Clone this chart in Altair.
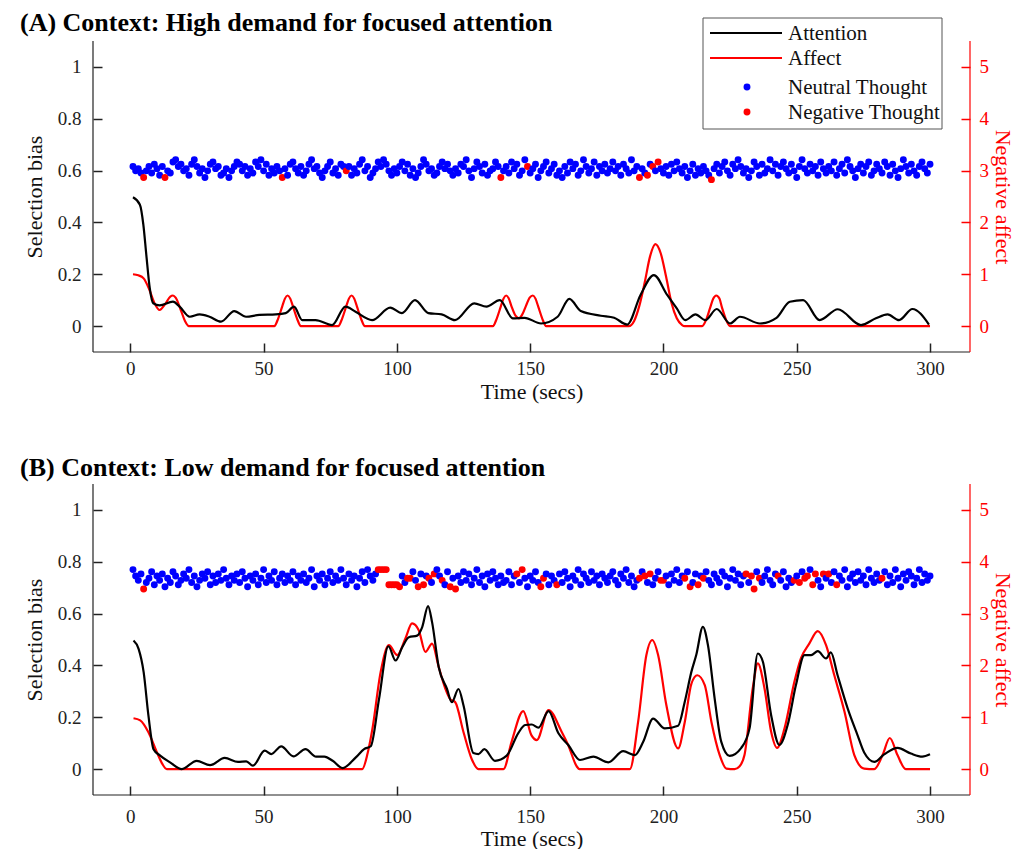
import altair as alt
import pandas as pd

# ---------------- Panel A data ----------------
att_a_t = [1, 3.6, 4.9, 6, 7.3, 8.6, 11, 16, 18.5, 22.3, 26, 29.7, 34, 39, 43.4, 48.4, 54.6, 58.3,
           61.4, 64.5, 69.5, 75.7, 80.7, 84.5, 90.7, 97.5, 101.9, 106.8, 111.8, 116.8, 121.8, 129,
           133.6, 138.6, 143.5, 147.9, 154.1, 160.3, 164.7, 169, 176.5, 181.5, 186.4, 191.4, 196.4,
           201.4, 205, 208.2, 212, 215.7, 220, 225, 228.7, 236.2, 242.4, 247.4, 252.4, 258.6, 265.4,
           274.1, 279.7, 284.1, 288.4, 293.4, 299.6]
att_a_v = [0.497, 0.468, 0.39, 0.275, 0.146, 0.088, 0.08, 0.094, 0.075, 0.036, 0.045, 0.036, 0.017,
           0.058, 0.036, 0.043, 0.045, 0.05, 0.075, 0.023, 0.023, 0.004, 0.075, 0.055, 0.023, 0.071,
           0.05, 0.10, 0.05, 0.045, 0.023, 0.088, 0.075, 0.10, 0.03, 0.032, 0.01, 0.036, 0.105, 0.058,
           0.04, 0.032, 0.006, 0.12, 0.197, 0.12, 0.068, 0.023, 0.045, 0.023, 0.066, 0.01, 0.036,
           0.01, 0.032, 0.094, 0.10, 0.023, 0.065, 0.004, 0.03, 0.045, 0.023, 0.066, 0.006]

aff_a_t = [1, 3, 5, 7, 9, 11, 13, 15, 16, 17, 19, 20.5, 22,
           54, 55.5, 57, 58, 59, 60, 61, 62.5, 64,
           78, 79.5, 81, 82, 83, 84, 85, 86.5, 88,
           136, 137.5, 139, 140, 141, 142, 143, 144.5, 145.8, 147, 148.5, 149.8, 151, 152, 153, 154.5, 156,
           187, 189, 191, 193, 195, 197, 199, 201, 203, 205, 207, 208,
           214.5, 216, 217.5, 218.7, 219.8, 221, 222, 223.5, 225, 300]
aff_a_v = [1.0, 0.98, 0.92, 0.72, 0.45, 0.31, 0.42, 0.57, 0.59, 0.55, 0.3, 0.1, 0,
           0, 0.15, 0.38, 0.53, 0.59, 0.53, 0.38, 0.15, 0,
           0, 0.15, 0.38, 0.53, 0.59, 0.53, 0.38, 0.15, 0,
           0, 0.15, 0.38, 0.53, 0.59, 0.53, 0.38, 0.2, 0.15, 0.22, 0.4, 0.55, 0.59, 0.53, 0.38, 0.15, 0,
           0, 0.1, 0.4, 0.85, 1.35, 1.58, 1.4, 0.95, 0.45, 0.15, 0.02, 0,
           0, 0.12, 0.35, 0.53, 0.59, 0.53, 0.35, 0.12, 0, 0]

# thought dots, one per second (t = 1..300): level 0..9 inside the band
lev_a = [6,4,5,3,1,4,6,3,7,5,2,6,1,4,3,8,9,6,7,4,
         5,2,7,9,6,3,5,1,4,7,8,5,6,2,3,5,1,4,6,8,
         7,4,6,2,5,3,8,6,9,4,7,2,5,3,6,4,1,5,2,7,
         8,5,3,6,2,4,7,9,5,6,3,1,4,6,8,3,5,2,7,6,
         4,6,2,5,3,7,9,4,6,1,3,5,8,6,9,7,4,2,5,3,
         6,8,4,7,2,5,1,3,6,9,7,4,5,2,3,6,8,5,7,4,
         2,5,3,7,6,9,4,1,5,8,6,3,7,2,4,5,8,6,1,4,
         6,3,8,5,7,2,4,9,6,3,5,7,1,4,6,8,3,5,7,2,
         4,1,6,3,8,5,7,2,4,9,6,3,5,8,2,6,4,7,3,5,
         8,4,6,2,7,5,3,9,4,6,1,5,3,2,7,6,4,8,5,3,
         6,2,7,4,8,5,3,6,1,4,7,2,5,3,6,4,2,0,5,7,
         3,6,8,4,2,7,5,9,6,3,5,1,4,8,6,2,7,3,5,9,
         4,7,2,6,8,5,3,7,4,1,6,9,5,3,7,4,6,2,8,5,
         3,6,4,8,2,5,7,3,9,6,4,1,5,7,3,6,8,2,4,7,
         5,3,8,6,2,7,4,1,5,9,6,3,7,4,2,6,8,5,3,7]
neg_a = [5, 13, 57, 81, 139, 149, 191, 194, 196, 198, 218]
band_a = (0.565, 0.0085)

# ---------------- Panel B data ----------------
att_b_t = [1.2, 3.1, 5, 6.8, 8.7, 11.2, 14.9, 19.3, 24.9, 29.9, 35.4, 40.4, 43.5, 46, 50.4, 52.9,
           56.6, 61.2, 65.7, 69.7, 72.8, 75.9, 79.6, 84.6, 87.7, 90.2, 93.3, 96.8, 99.5, 102, 104.5,
           107.6, 109.5, 111.7, 113.2, 115.7, 118.8, 120.6, 123.1, 125, 128.7, 130.6, 132.8, 136.8,
           141.2, 145.6, 148.1, 150.6, 153.1, 156.9, 160.6, 164.3, 168.7, 173.7, 179.3, 184.9, 189.3,
           192.4, 196.1, 200.5, 205.5, 208, 210.5, 212.3, 214.8, 216.7, 219.2, 221.7, 224.8, 229.2,
           232.3, 235.4, 237.3, 240.4, 243.5, 246.6, 249.7, 252.9, 255.4, 257.9, 261, 262.8, 265.3,
           269.1, 272.8, 275.3, 279.1, 282.8, 287.8, 292.8, 297.1, 300]
att_b_v = [0.496, 0.464, 0.374, 0.206, 0.077, 0.052, 0.026, 0.0, 0.032, 0.015, 0.043, 0.028, 0.03,
           0.013, 0.071, 0.058, 0.088, 0.049, 0.077, 0.048, 0.048, 0.032, 0.004, 0.045, 0.077, 0.088,
           0.27, 0.474, 0.419, 0.47, 0.509, 0.515, 0.548, 0.629, 0.567, 0.393, 0.309, 0.258, 0.309,
           0.245, 0.062, 0.058, 0.077, 0.032, 0.052, 0.14, 0.17, 0.172, 0.16, 0.224, 0.138, 0.093,
           0.035, 0.048, 0.026, 0.069, 0.054, 0.105, 0.195, 0.157, 0.167, 0.26, 0.376, 0.44, 0.549,
           0.478, 0.273, 0.105, 0.051, 0.082, 0.157, 0.446, 0.414, 0.208, 0.093, 0.17, 0.324, 0.44,
           0.44, 0.455, 0.427, 0.45, 0.363, 0.234, 0.131, 0.064, 0.028, 0.057, 0.082, 0.06, 0.048,
           0.057]

aff_b_t = [1.2, 3.7, 6.8, 10, 12, 13.7, 87, 89, 90.8, 93.9, 97, 100.1, 103.2, 105.7, 108.2, 110.7,
           113.2, 115.7, 118.2, 120, 121.9, 125, 128.1, 130.6, 140, 143, 147.4, 150.5, 152.5, 156.9,
           161.8, 164.3, 167.5, 168.5, 187.4, 190.5, 193.6, 195.8, 198, 201.1, 205.5, 208, 210.5,
           212.7, 215.5, 218, 221.1, 223.6, 226.7, 228.5, 230.4, 233.5, 235.4, 237.9, 240.4, 242.6,
           245.4, 249.1, 251.6, 254.7, 257.9, 261, 264.1, 267.9, 271.6, 275.3, 279.1, 282.2, 284.9,
           287.8, 290.9, 300]
aff_b_v = [0.98, 0.94, 0.71, 0.32, 0.1, 0, 0, 0.3, 0.77, 1.87, 2.39, 2.2, 2.52, 2.81, 2.68, 2.26,
           2.42, 1.97, 1.55, 1.35, 1.29, 0.71, 0.19, 0, 0, 0.52, 1.12, 0.65, 0.56, 1.14,
           0.72, 0.46, 0.05, 0, 0, 0.91, 2.2, 2.49, 2.2, 1.23, 0.4, 0.91, 1.65,
           1.81, 1.62, 0.91, 0.27, 0.01, 0, 0.05, 0.27, 1.56, 2.04, 1.56, 0.72, 0.41,
           0.78, 1.68, 2.14, 2.42, 2.66, 2.39, 1.81, 1.11, 0.27, 0.01, 0, 0.27, 0.6,
           0.27, 0, 0]

lev_b = [9,6,4,7,0,3,5,8,2,6,4,7,1,5,3,8,6,2,4,7,
         5,9,3,6,1,4,7,5,8,2,6,3,7,4,9,5,2,6,4,7,
         3,8,5,1,6,4,7,2,5,9,3,6,4,8,2,5,7,3,6,4,
         8,2,6,4,7,3,5,9,1,6,4,7,2,5,8,3,6,4,9,5,
         2,7,4,6,1,5,8,3,9,6,4,7,9,9,9,9,2,2,2,2,
         1,6,3,5,5,8,4,1,7,2,6,5,3,7,9,6,4,2,8,1,
         5,0,6,3,8,4,7,2,5,9,3,6,1,7,4,8,5,2,6,3,
         4,8,2,6,7,3,9,5,1,6,4,8,3,1,5,7,2,6,4,2,
         7,3,8,5,1,6,4,9,2,7,5,3,8,4,6,2,7,5,3,6,
         8,4,2,7,5,9,3,6,1,4,5,8,6,3,7,2,5,8,4,4,
         6,2,7,4,9,3,6,5,8,1,3,7,2,6,5,8,4,2,7,5,
         3,8,6,1,5,9,4,7,2,6,7,3,6,0,8,5,3,6,9,4,
         2,7,6,4,8,1,5,3,4,6,3,8,5,6,9,2,7,4,1,7,
         5,7,3,8,2,6,4,9,1,5,7,3,8,4,6,2,9,5,3,7,
         4,5,8,2,6,3,9,5,1,7,4,8,6,2,5,9,3,7,4,6]
neg_b = [5, 93, 94, 95, 96, 97, 98, 99, 100, 101, 104, 105, 108, 110, 112, 114, 117, 120, 122,
         145, 147, 154, 155, 160, 191, 193, 195, 199, 200, 208, 210, 213, 215, 231, 233, 234, 236,
         243, 249, 251, 253, 254, 256, 257, 260, 262, 265, 282]
band_b = (0.695, 0.0083)

titles = ["(A) Context: High demand for focused attention",
          "(B) Context: Low demand for focused attention"]
legend_names = ["Attention", "Affect", "Neutral Thought", "Negative Thought"]
legend_colors = ["black", "#ff0000", "#0000ff", "#ff0000"]
x_ticks = [0, 50, 100, 150, 200, 250, 300]
y_ticks = [0, 0.2, 0.4, 0.6, 0.8, 1]
aff_ticks = [0, 1, 2, 3, 4, 5]

FONT = "Liberation Serif"
W, H = 877, 311
DOT = 48
TICK = 9
AXIS_GRAY = "#222"


def dots_frame(levels, negs, band):
    base, step = band
    rows = []
    for i, lv in enumerate(levels):
        t = i + 1
        rows.append({"t": t, "y": base + lv * step,
                     "kind": "Negative Thought" if t in negs else "Neutral Thought"})
    return pd.DataFrame(rows)


def legend_layers():
    # legend drawn as a small layer of its own, positioned in pixels of the panel
    box = alt.Chart(pd.DataFrame({"k": [0]})).mark_rect(
        fill="white", stroke="#555", strokeWidth=1
    ).encode(x=alt.value(610), x2=alt.value(849), y=alt.value(-23), y2=alt.value(88))
    rows_y = [-8, 17, 46, 71]
    parts = [box]
    for i, (name, col) in enumerate(zip(legend_names, legend_colors)):
        d = pd.DataFrame({"label": [name]})
        if i < 2:
            parts.append(alt.Chart(d).mark_rule(color=col, strokeWidth=2.2).encode(
                x=alt.value(617), x2=alt.value(689), y=alt.value(rows_y[i])))
        else:
            parts.append(alt.Chart(d).mark_point(filled=True, opacity=1, color=col, size=DOT,
                                                 shape="circle").encode(
                x=alt.value(654), y=alt.value(rows_y[i])))
        parts.append(alt.Chart(d).mark_text(align="left", baseline="middle", font=FONT,
                                            fontSize=21, color="#111").encode(
            x=alt.value(695), y=alt.value(rows_y[i] + 1), text="label:N"))
    return parts


def frame_layers():
    # axis lines along the plot edges (the axes themselves sit inward so ticks point in)
    d = pd.DataFrame({"k": [0]})
    bottom = alt.Chart(d).mark_rule(color=AXIS_GRAY, strokeWidth=1.2).encode(
        x=alt.value(0), x2=alt.value(W), y=alt.value(H))
    left = alt.Chart(d).mark_rule(color=AXIS_GRAY, strokeWidth=1.2).encode(
        x=alt.value(0), y=alt.value(0), y2=alt.value(H))
    right = alt.Chart(d).mark_rule(color="#ff0000", strokeWidth=1.2).encode(
        x=alt.value(W), y=alt.value(0), y2=alt.value(H))
    return [bottom, left, right]


def panel(att_t, att_v, aff_t, aff_v, levels, negs, band, title, title_y, with_legend,
          x_label_pad, x_title_pad):
    xscale = alt.Scale(domain=[-14, 315], nice=False, zero=False)
    xenc = alt.X("t:Q", scale=xscale,
                 axis=alt.Axis(values=x_ticks, title="Time (secs)", format="d",
                               titlePadding=x_title_pad, labelPadding=x_label_pad,
                               offset=-TICK, tickSize=TICK, domain=False, tickColor=AXIS_GRAY,
                               zindex=2))
    yscale = alt.Scale(domain=[-0.1, 1.1], nice=False, zero=False)
    yaxis = alt.Axis(values=y_ticks, title="Selection bias", format="~g", orient="left",
                     titlePadding=11, labelPadding=12, offset=-TICK, tickSize=TICK,
                     domain=False, tickColor=AXIS_GRAY, zindex=2)
    ascale = alt.Scale(domain=[-0.5, 5.5], nice=False, zero=False)
    aaxis = alt.Axis(values=aff_ticks, title="Negative affect", orient="right",
                     labelColor="#ff0000", titleColor="#ff0000", tickColor="#ff0000",
                     format="d", titlePadding=2, labelPadding=9, offset=-TICK, tickSize=TICK,
                     domain=False, zindex=2)

    att = alt.Chart(pd.DataFrame({"t": att_t, "v": att_v})).mark_line(
        color="black", strokeWidth=2.2, interpolate="monotone"
    ).encode(x=xenc, y=alt.Y("v:Q", scale=yscale, axis=yaxis))

    dots = alt.Chart(dots_frame(levels, negs, band)).mark_point(
        filled=True, opacity=1, size=DOT, shape="circle"
    ).encode(
        x=xenc, y=alt.Y("y:Q", scale=yscale, axis=yaxis),
        color=alt.Color("kind:N", scale=alt.Scale(domain=legend_names[2:],
                        range=legend_colors[2:]), legend=None))

    aff = alt.Chart(pd.DataFrame({"t": aff_t, "a": aff_v})).mark_line(
        color="#ff0000", strokeWidth=2.2, interpolate="monotone"
    ).encode(x=xenc, y=alt.Y("a:Q", scale=ascale, axis=aaxis))

    ttl = alt.Chart(pd.DataFrame({"label": [title]})).mark_text(
        align="left", baseline="middle", font=FONT, fontSize=26, fontWeight="bold", color="black"
    ).encode(x=alt.value(-73), y=alt.value(title_y), text="label:N")

    left = alt.layer(dots, att)
    extras = frame_layers() + [ttl] + (legend_layers() if with_legend else [])
    return alt.layer(aff, left, *extras).resolve_scale(y="independent").properties(
        width=W, height=H)


pA = panel(att_a_t, att_a_v, aff_a_t, aff_a_v, lev_a, neg_a, band_a, titles[0], -18, True, 7, 3)
pB = panel(att_b_t, att_b_v, aff_b_t, aff_b_v, lev_b, neg_b, band_b, titles[1], -16, False, 12, 2)

chart = alt.vconcat(pA, pB, spacing=53).resolve_scale(color="independent").properties(
    padding={"left": 12, "top": 2, "right": 7, "bottom": 0}
).configure_view(strokeOpacity=0).configure_axis(
    labelFont=FONT, titleFont=FONT, labelFontSize=19, titleFontSize=22, titleFontWeight="normal",
    labelColor="#222", titleColor="#111", grid=False, tickWidth=1.5
)

chart.save("out.html", embed_options={"renderer": "svg", "actions": False})
